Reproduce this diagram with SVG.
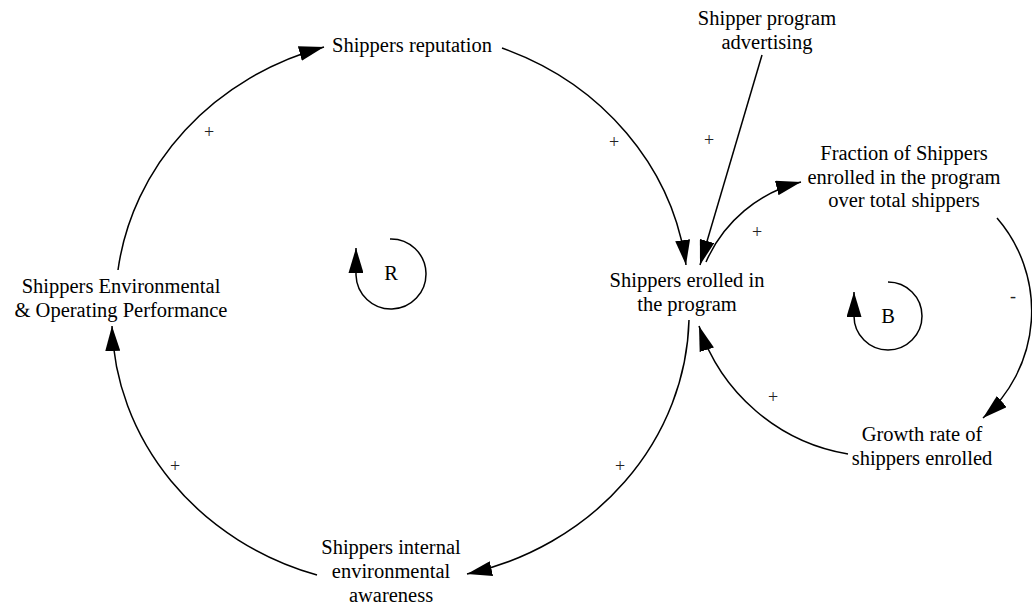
<svg xmlns="http://www.w3.org/2000/svg" width="1032" height="608" viewBox="0 0 1032 608">
  <style>
    .lbl { font-family: "Liberation Serif", "Times New Roman", serif; font-size: 20.5px; fill: #000; text-anchor: middle; }
    .sign { font-family: "Liberation Serif", "Times New Roman", serif; font-size: 18px; fill: #222; text-anchor: middle; }
    .link { fill: none; stroke: #000; stroke-width: 1.5; marker-end: url(#head); }
    .loop { fill: none; stroke: #000; stroke-width: 1.5; marker-end: url(#head); }
  </style>
  <defs>
    <marker id="head" markerUnits="userSpaceOnUse" markerWidth="25" markerHeight="15" refX="25" refY="7.5" orient="auto">
      <path d="M0,0 L25,7.5 L0,15 z" fill="#000"/>
    </marker>
  </defs>
  <rect width="1032" height="608" fill="#fff"/>

  <g id="connectors">
    <!-- reinforcing loop -->
    <path class="link" d="M118,270 A290,268 0 0 1 324,47"/>
    <path class="link" d="M502,48 A290,268 0 0 1 686,265"/>
    <path class="link" d="M689,320 A290,268 0 0 1 467,574"/>
    <path class="link" d="M317,575 A290,268 0 0 1 112,326"/>
    <!-- advertising -->
    <path class="link" d="M762,55 L700,265"/>
    <!-- balancing loop -->
    <path class="link" d="M706,262 A140,140 0 0 1 801,182"/>
    <path class="link" d="M997,218 A142,142 0 0 1 983,418"/>
    <path class="link" d="M848,454 A190,190 0 0 1 699,326"/>
    <!-- loop markers -->
    <path class="loop" d="M390,239 A35,35 0 1 1 356,275 L356,248"/>
    <path class="loop" d="M888,282 A34,34 0 1 1 854,316 L854,292"/>
  </g>

  <g id="node-reputation"><text class="lbl" x="412" y="52">Shippers reputation</text></g>
  <g id="node-advertising">
    <text class="lbl" x="767" y="25">Shipper program</text>
    <text class="lbl" x="767" y="49">advertising</text>
  </g>
  <g id="node-fraction">
    <text class="lbl" x="904" y="160">Fraction of Shippers</text>
    <text class="lbl" x="904" y="184">enrolled in the program</text>
    <text class="lbl" x="904" y="207">over total shippers</text>
  </g>
  <g id="node-enrolled">
    <text class="lbl" x="687" y="287">Shippers erolled in</text>
    <text class="lbl" x="687" y="311">the program</text>
  </g>
  <g id="node-growth">
    <text class="lbl" x="922" y="441">Growth rate of</text>
    <text class="lbl" x="922" y="465">shippers enrolled</text>
  </g>
  <g id="node-performance">
    <text class="lbl" x="121" y="293">Shippers Environmental</text>
    <text class="lbl" x="121" y="317">&amp; Operating Performance</text>
  </g>
  <g id="node-awareness">
    <text class="lbl" x="391" y="554">Shippers internal</text>
    <text class="lbl" x="391" y="578">environmental</text>
    <text class="lbl" x="391" y="602">awareness</text>
  </g>
  <g id="loop-R"><text class="lbl" x="391" y="280">R</text></g>
  <g id="loop-B"><text class="lbl" x="888" y="323">B</text></g>

  <g id="polarities">
    <text class="sign" x="209" y="138">+</text>
    <text class="sign" x="614" y="148">+</text>
    <text class="sign" x="709" y="146">+</text>
    <text class="sign" x="757" y="238">+</text>
    <text class="sign" x="773" y="403">+</text>
    <text class="sign" x="620" y="472">+</text>
    <text class="sign" x="175" y="472">+</text>
    <text class="sign" x="1013" y="302">-</text>
  </g>
</svg>
